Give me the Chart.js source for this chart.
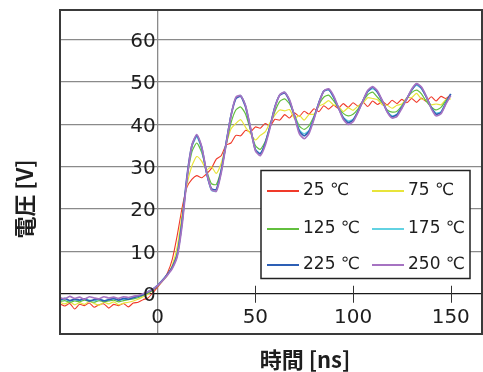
<!DOCTYPE html>
<html>
<head>
<meta charset="utf-8">
<script src="https://cdn.jsdelivr.net/npm/chart.js"></script>
<style>
  body { margin: 0; background: #fff; }
  #wrap { width: 483px; height: 372px; }
</style>
</head>
<body>
<div id="wrap"><canvas id="voltChart" width="483" height="372"></canvas></div>
<script>
// time axis [ns]
const times = [
  -50, -47.5, -45, -42.5, -40, -37.5, -35, -32.5, -30, -27.5, -25, -22.5, -20, -17.5, -15, -12.5,
  -10, -7.5, -5, -2.5, 0, 2.5, 5, 7.5, 10, 12.5, 15, 17.5, 20, 22.5, 25, 27.5, 30, 32.5, 35, 37.5,
  40, 42.5, 45, 47.5, 50, 52.5, 55, 57.5, 60, 62.5, 65, 67.5, 70, 72.5, 75, 77.5, 80, 82.5, 85, 87.5,
  90, 92.5, 95, 97.5, 100, 102.5, 105, 107.5, 110, 112.5, 115, 117.5, 120, 122.5, 125, 127.5, 130,
  132.5, 135, 137.5, 140, 142.5, 145, 147.5, 150
];

// voltage [V] per temperature
const v25 = [
  -2.4, -2.9, -2.3, -3.6, -2.5, -2.8, -2.2, -3.2, -2.6, -2.4, -3.4, -2.5, -2.8, -2.3, -3.1, -2.2,
  -2.0, -1.4, -1.0, 0.2, 1.6, 3.0, 4.9, 8.2, 13.8, 20.3, 25.2, 27.0, 27.9, 27.4, 28.3, 29.6, 31.8, 32.6, 35.1, 35.6,
  37.4, 37.3, 38.6, 38.2, 39.4, 39.1, 40.2, 39.6, 41.2, 41.0, 42.3, 41.5, 42.7, 41.9, 43.1, 42.4, 43.7, 43.0, 44.4, 43.6,
  44.5, 43.8, 44.9, 44.0, 45.1, 44.3, 45.3, 44.2, 45.5, 44.7, 45.4, 44.6, 45.7, 44.9, 45.9, 45.1, 46.1,
  45.2, 46.2, 45.4, 46.5, 45.5, 46.6, 46.1, 47.0
];
const v75 = [
  -2.0, -2.4, -1.9, -2.6, -2.1, -2.5, -1.8, -2.3, -2.7, -2.0, -2.4, -1.9, -2.6, -2.2, -2.0, -1.7,
  -1.3, -0.7, -0.1, 0.8, 1.8, 3.0, 4.4, 6.8, 11.0, 18.8, 25.8, 30.2, 32.4, 31.3, 29.2, 30.0, 28.4, 30.8, 35.2, 38.9,
  40.2, 41.1, 39.3, 37.8, 36.3, 37.4, 38.2, 40.4, 42.2, 43.4, 43.2, 43.5, 41.4, 42.1, 41.0, 42.3, 42.4, 44.3, 44.8, 45.6,
  44.6, 44.3, 43.0, 43.9, 43.3, 44.3, 45.0, 46.3, 46.1, 45.8, 44.6, 44.5, 43.8, 44.5, 44.8, 46.3, 46.3,
  47.3, 46.0, 45.8, 44.6, 44.8, 44.6, 45.8, 46.0
];
const v125 = [
  -1.8, -1.6, -2.0, -1.7, -1.9, -1.5, -1.8, -2.0, -1.6, -1.9, -1.7, -1.5, -1.9, -1.6, -1.4, -1.2,
  -0.9, -0.4, 0.2, 0.9, 1.9, 3.1, 4.5, 6.4, 9.6, 17.5, 27.0, 33.5, 35.6, 33.4, 29.2, 26.0, 25.8, 29.3, 35.0, 40.3,
  43.4, 44.1, 42.4, 38.6, 35.0, 34.1, 35.9, 39.6, 43.0, 45.4, 46.0, 44.8, 42.2, 39.6, 38.8, 39.7, 41.9, 44.6, 46.4, 46.9,
  45.6, 43.9, 42.6, 42.0, 42.4, 43.6, 45.4, 47.0, 47.6, 46.4, 45.1, 43.4, 42.9, 43.1, 44.4, 46.1, 47.5,
  48.1, 47.2, 45.4, 44.1, 43.4, 44.0, 45.6, 46.9
];
const v175 = [
  -1.5, -1.3, -1.7, -1.4, -1.6, -1.2, -1.5, -1.7, -1.3, -1.6, -1.4, -1.2, -1.5, -1.3, -1.1, -0.9,
  -0.6, -0.1, 0.6, 1.2, 2.1, 3.3, 4.6, 6.2, 9.0, 16.8, 27.4, 34.6, 37.0, 34.2, 28.4, 24.4, 24.2, 28.8, 35.6, 42.2,
  46.2, 46.8, 44.4, 39.2, 34.2, 33.2, 35.4, 39.6, 44.2, 47.0, 47.6, 45.6, 42.2, 38.7, 37.8, 38.6, 41.6, 45.2, 47.7, 48.2,
  46.4, 44.0, 41.7, 40.8, 41.2, 43.1, 45.6, 47.7, 48.4, 47.6, 45.4, 43.1, 42.0, 42.4, 44.1, 46.2, 48.1,
  49.2, 48.4, 46.4, 44.1, 42.7, 43.0, 45.2, 47.1
];
const v225 = [
  -1.4, -1.1, -1.6, -1.3, -1.5, -1.2, -1.7, -1.4, -1.3, -1.7, -1.4, -1.1, -1.5, -1.1, -1.3, -0.9,
  -0.6, -0.2, 0.4, 1.0, 2.0, 3.2, 4.6, 6.3, 9.2, 17.0, 27.8, 35.0, 37.4, 34.6, 28.6, 24.8, 24.6, 29.0, 35.5, 42.0,
  46.1, 46.6, 44.1, 39.0, 34.0, 33.0, 35.5, 39.5, 44.1, 46.9, 47.4, 45.5, 42.0, 38.4, 37.3, 38.4, 41.5, 45.1, 47.9, 48.2,
  46.5, 43.9, 41.5, 40.4, 41.0, 43.0, 45.5, 47.8, 48.7, 47.6, 45.5, 43.0, 41.8, 42.3, 44.0, 46.0, 48.1,
  49.5, 48.6, 46.5, 44.0, 42.4, 42.8, 45.0, 47.2
];
const v250 = [
  -0.9, -1.2, -0.6, -1.1, -0.8, -1.3, -0.7, -1.0, -1.2, -0.7, -1.0, -0.8, -1.1, -0.7, -0.9, -0.6,
  -0.4, 0.0, 0.5, 1.1, 2.0, 3.1, 4.4, 6.0, 8.8, 16.2, 27.2, 35.0, 37.6, 34.8, 28.8, 24.6, 24.2, 28.5, 35.2, 42.0,
  46.4, 46.8, 44.4, 39.2, 33.8, 32.6, 35.0, 39.2, 44.0, 47.0, 47.6, 45.8, 42.0, 37.8, 36.6, 37.9, 41.2, 45.0, 47.8, 48.4,
  46.8, 44.0, 41.2, 40.0, 40.6, 42.8, 45.5, 48.0, 48.9, 47.9, 45.6, 42.9, 41.5, 41.9, 43.8, 46.0, 48.3,
  49.6, 48.8, 46.6, 43.8, 42.0, 42.5, 44.8, 46.8
];

const seriesLabels = ['25 ℃', '75 ℃', '125 ℃', '175 ℃', '225 ℃', '250 ℃'];
const seriesColors = ['#f03a2a', '#e8e43a', '#62bf3e', '#62d2e2', '#2d5fb5', '#a673c2'];
const lineWidths = [1.1, 1.2, 1.2, 1.3, 1.7, 1.7];
const yTickLabels = [0, 10, 20, 30, 40, 50, 60];
const xTickLabels = [0, 50, 100, 150];

const series = [v25, v75, v125, v175, v225, v250];

const decor = {
  id: 'decor',
  afterDatasetsDraw(chart) {
    const ctx = chart.ctx;
    const area = chart.chartArea;
    const xs = chart.scales.x;
    const ys = chart.scales.y;
    const x0 = xs.getPixelForValue(0);
    const y0 = ys.getPixelForValue(0);
    ctx.save();

    // frame
    ctx.strokeStyle = '#3a3a3a';
    ctx.lineWidth = 2;
    ctx.strokeRect(area.left, area.top, area.right - area.left, area.bottom - area.top);

    // tick marks on the 0 V line
    ctx.lineWidth = 1;
    ctx.strokeStyle = '#333';
    xTickLabels.forEach(v => {
      if (v === 0) return;
      const px = Math.round(xs.getPixelForValue(v)) + 0.5;
      ctx.beginPath();
      ctx.moveTo(px, y0 - 8);
      ctx.lineTo(px, y0 + 9);
      ctx.stroke();
    });

    // tick labels
    ctx.fillStyle = '#1e1e1e';
    ctx.font = '20px "DejaVu Sans"';
    ctx.textAlign = 'right';
    ctx.textBaseline = 'middle';
    yTickLabels.forEach(v => {
      ctx.fillText(String(v), x0 - 2, ys.getPixelForValue(v) + 2);
    });
    ctx.textAlign = 'center';
    xTickLabels.forEach(v => {
      ctx.fillText(String(v), xs.getPixelForValue(v), y0 + 24);
    });

    // axis titles
    ctx.font = 'bold 22px "Noto Sans CJK JP"';
    ctx.fillText('時間 [ns]', 305, 360);
    ctx.save();
    ctx.translate(25, 199);
    ctx.rotate(-Math.PI / 2);
    ctx.fillText('電圧 [V]', 0, 0);
    ctx.restore();

    // legend box
    const lx = 261, ly = 170.5, lw = 209, lh = 108;
    ctx.fillStyle = '#fff';
    ctx.fillRect(lx, ly, lw, lh);
    ctx.strokeStyle = '#222';
    ctx.lineWidth = 1.5;
    ctx.strokeRect(lx, ly, lw, lh);
    const rowY = [191, 229, 265];
    const colX = [267, 372];
    ctx.font = '17px "DejaVu Sans"';
    ctx.textAlign = 'left';
    seriesLabels.forEach((lab, i) => {
      const cx = colX[i % 2];
      const cy = rowY[Math.floor(i / 2)];
      ctx.strokeStyle = seriesColors[i];
      ctx.lineWidth = 2;
      ctx.beginPath();
      ctx.moveTo(cx, cy);
      ctx.lineTo(cx + 32, cy);
      ctx.stroke();
      ctx.fillStyle = '#1e1e1e';
      ctx.fillText(lab, cx + 36, cy);
    });
    ctx.restore();
  }
};

const ctx = document.getElementById('voltChart').getContext('2d');
new Chart(ctx, {
  type: 'line',
  data: {
    datasets: series.map((vals, i) => ({
      label: seriesLabels[i],
      data: vals.map((v, j) => ({ x: times[j], y: v })),
      borderColor: seriesColors[i],
      borderWidth: lineWidths[i],
      pointRadius: 0,
      tension: 0.2,
      order: 5 - i
    }))
  },
  options: {
    responsive: false,
    animation: false,
    devicePixelRatio: 1,
    layout: { padding: { left: 60, top: 10, right: 1, bottom: 38 } },
    plugins: { legend: { display: false }, tooltip: { enabled: false } },
    scales: {
      x: {
        type: 'linear', min: -50, max: 166,
        border: { display: false },
        ticks: { display: false, stepSize: 50 },
        grid: {
          drawTicks: false,
          color: c => c.tick.value === 0 ? '#8a8a8a' : 'transparent',
          lineWidth: 1.3
        }
      },
      y: {
        min: -9.5, max: 67,
        border: { display: false },
        ticks: { display: false, stepSize: 10 },
        grid: {
          drawTicks: false,
          color: c => {
            const v = c.tick.value;
            if (v === 0) return '#1a1a1a';
            if (v > 0 && v <= 60 && v % 10 === 0) return '#8a8a8a';
            return 'transparent';
          },
          lineWidth: 1.3
        }
      }
    }
  },
  plugins: [decor]
});
</script>
</body>
</html>
